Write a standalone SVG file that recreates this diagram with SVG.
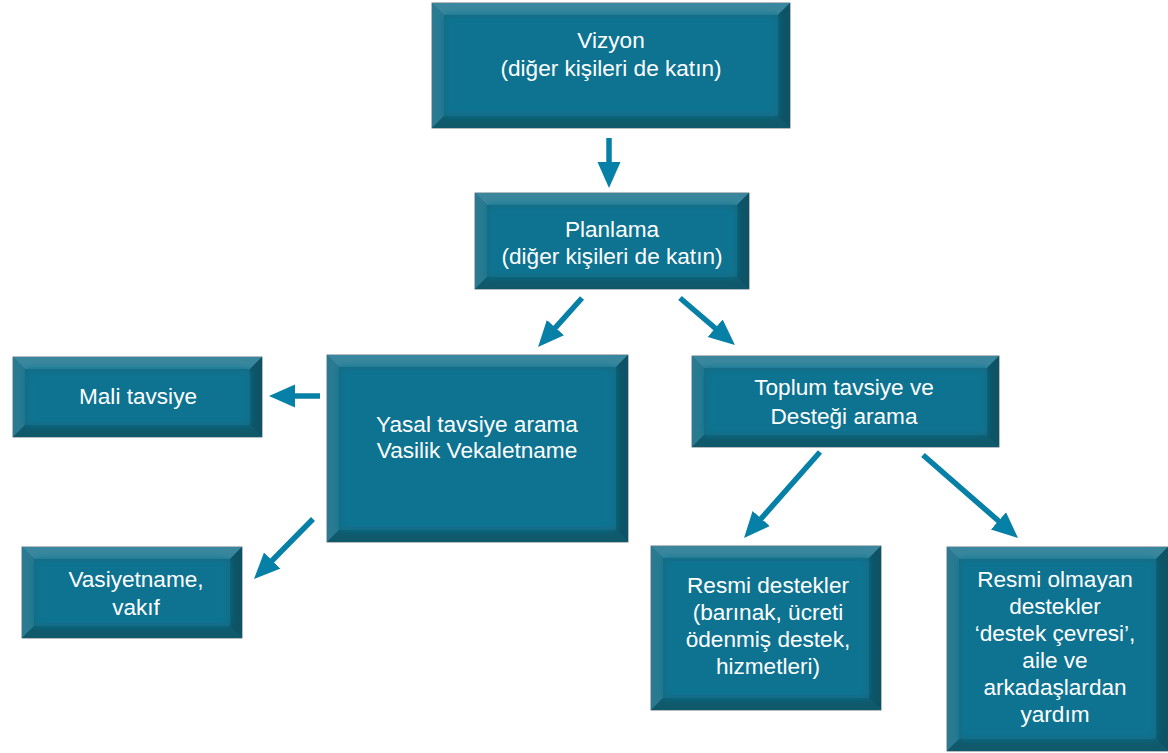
<svg xmlns="http://www.w3.org/2000/svg" width="1168" height="753" viewBox="0 0 1168 753">
  <style>
    .frame { fill: #15657a; stroke: #6f7a80; stroke-width: 1; }
    .bt { fill: #3a879d; }
    .bl { fill: #2a7a91; }
    .br { fill: #0d5365; }
    .bb { fill: #10596b; }
    .face { fill: #0b7391; filter: url(#soft); }
    .lbl { font-family: "Liberation Sans", Arial, sans-serif; font-size: 22.6px; fill: #ffffff; text-anchor: middle; }
    .conn { stroke: #0680a6; stroke-width: 5.5; fill: none; marker-end: url(#ah); }
  </style>
  <defs>
    <filter id="soft" x="-10%" y="-10%" width="120%" height="120%">
      <feGaussianBlur stdDeviation="3.5"/>
    </filter>
    <marker id="ah" markerUnits="userSpaceOnUse" markerWidth="28" markerHeight="24" refX="12" refY="11.5" orient="auto">
      <path d="M0,0 L26,11.5 L0,23 z" fill="#0680a6"/>
    </marker>
  </defs>
  <rect width="1168" height="753" fill="#ffffff"/>

  <g id="connectors">
    <line class="conn" x1="609" y1="138" x2="609" y2="174"/>
    <line class="conn" x1="582" y1="298" x2="547.4" y2="336.6"/>
    <line class="conn" x1="680" y1="298" x2="724.3" y2="336"/>
    <line class="conn" x1="320" y1="396" x2="283" y2="396"/>
    <line class="conn" x1="313" y1="519" x2="263.8" y2="569"/>
    <line class="conn" x1="820" y1="452" x2="753.3" y2="527.5"/>
    <line class="conn" x1="923" y1="455" x2="1007.5" y2="528.8"/>
  </g>

  <!-- Vizyon: 432,3,358,125 -->
  <g id="vizyon">
    <rect class="frame" x="432" y="3" width="358" height="125"/>
    <polygon class="bt" points="432,3 790,3 778,15 444,15"/>
    <polygon class="bl" points="432,3 444,15 444,116 432,128"/>
    <polygon class="br" points="790,3 790,128 778,116 778,15"/>
    <polygon class="bb" points="432,128 790,128 778,116 444,116"/>
    <rect class="face" x="444" y="15" width="334" height="101"/>
    <text class="lbl" x="611" y="48">Vizyon</text>
    <text class="lbl" x="611" y="76">(diğer kişileri de katın)</text>
  </g>

  <!-- Planlama: 475,193,274,96 -->
  <g id="planlama">
    <rect class="frame" x="475" y="193" width="274" height="96"/>
    <polygon class="bt" points="475,193 749,193 737,205 487,205"/>
    <polygon class="bl" points="475,193 487,205 487,277 475,289"/>
    <polygon class="br" points="749,193 749,289 737,277 737,205"/>
    <polygon class="bb" points="475,289 749,289 737,277 487,277"/>
    <rect class="face" x="487" y="205" width="250" height="72"/>
    <text class="lbl" x="612" y="237">Planlama</text>
    <text class="lbl" x="612" y="264">(diğer kişileri de katın)</text>
  </g>

  <!-- Mali: 13,357,249,80 -->
  <g id="mali">
    <rect class="frame" x="13" y="357" width="249" height="80"/>
    <polygon class="bt" points="13,357 262,357 250,369 25,369"/>
    <polygon class="bl" points="13,357 25,369 25,425 13,437"/>
    <polygon class="br" points="262,357 262,437 250,425 250,369"/>
    <polygon class="bb" points="13,437 262,437 250,425 25,425"/>
    <rect class="face" x="25" y="369" width="225" height="56"/>
    <text class="lbl" x="138" y="404">Mali tavsiye</text>
  </g>

  <!-- Yasal: 327,355,301,187 -->
  <g id="yasal">
    <rect class="frame" x="327" y="355" width="301" height="187"/>
    <polygon class="bt" points="327,355 628,355 616,367 339,367"/>
    <polygon class="bl" points="327,355 339,367 339,530 327,542"/>
    <polygon class="br" points="628,355 628,542 616,530 616,367"/>
    <polygon class="bb" points="327,542 628,542 616,530 339,530"/>
    <rect class="face" x="339" y="367" width="277" height="163"/>
    <text class="lbl" x="477" y="432">Yasal tavsiye arama</text>
    <text class="lbl" x="477" y="458">Vasilik Vekaletname</text>
  </g>

  <!-- Toplum: 692,356,307,91 -->
  <g id="toplum">
    <rect class="frame" x="692" y="356" width="307" height="91"/>
    <polygon class="bt" points="692,356 999,356 987,368 704,368"/>
    <polygon class="bl" points="692,356 704,368 704,435 692,447"/>
    <polygon class="br" points="999,356 999,447 987,435 987,368"/>
    <polygon class="bb" points="692,447 999,447 987,435 704,435"/>
    <rect class="face" x="704" y="368" width="283" height="67"/>
    <text class="lbl" x="844" y="395">Toplum tavsiye ve</text>
    <text class="lbl" x="844" y="424">Desteği arama</text>
  </g>

  <!-- Vasiyetname: 22,547,220,91 -->
  <g id="vasiyetname">
    <rect class="frame" x="22" y="547" width="220" height="91"/>
    <polygon class="bt" points="22,547 242,547 230,559 34,559"/>
    <polygon class="bl" points="22,547 34,559 34,626 22,638"/>
    <polygon class="br" points="242,547 242,638 230,626 230,559"/>
    <polygon class="bb" points="22,638 242,638 230,626 34,626"/>
    <rect class="face" x="34" y="559" width="196" height="67"/>
    <text class="lbl" x="136" y="587">Vasiyetname,</text>
    <text class="lbl" x="136" y="615">vakıf</text>
  </g>

  <!-- Resmi destekler: 651,546,230,164 -->
  <g id="resmi">
    <rect class="frame" x="651" y="546" width="230" height="164"/>
    <polygon class="bt" points="651,546 881,546 869,558 663,558"/>
    <polygon class="bl" points="651,546 663,558 663,698 651,710"/>
    <polygon class="br" points="881,546 881,710 869,698 869,558"/>
    <polygon class="bb" points="651,710 881,710 869,698 663,698"/>
    <rect class="face" x="663" y="558" width="206" height="140"/>
    <text class="lbl" x="768" y="593">Resmi destekler</text>
    <text class="lbl" x="768" y="620">(barınak, ücreti</text>
    <text class="lbl" x="768" y="647">ödenmiş destek,</text>
    <text class="lbl" x="768" y="674">hizmetleri)</text>
  </g>

  <!-- Resmi olmayan: 947,547,221,204 -->
  <g id="resmi-olmayan">
    <rect class="frame" x="947" y="547" width="221" height="204"/>
    <polygon class="bt" points="947,547 1168,547 1156,559 959,559"/>
    <polygon class="bl" points="947,547 959,559 959,739 947,751"/>
    <polygon class="br" points="1168,547 1168,751 1156,739 1156,559"/>
    <polygon class="bb" points="947,751 1168,751 1156,739 959,739"/>
    <rect class="face" x="959" y="559" width="197" height="180"/>
    <text class="lbl" x="1055" y="587">Resmi olmayan</text>
    <text class="lbl" x="1055" y="614">destekler</text>
    <text class="lbl" x="1055" y="641">‘destek çevresi’,</text>
    <text class="lbl" x="1055" y="668">aile ve</text>
    <text class="lbl" x="1055" y="695">arkadaşlardan</text>
    <text class="lbl" x="1055" y="722">yardım</text>
  </g>
</svg>
